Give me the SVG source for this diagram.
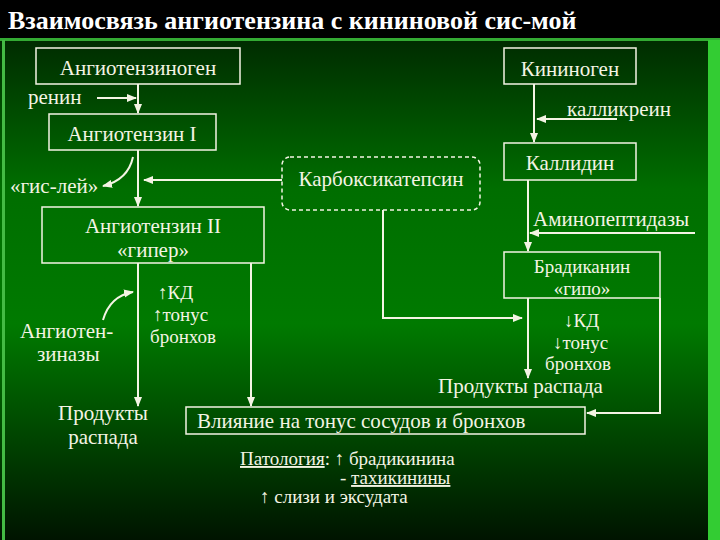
<svg xmlns="http://www.w3.org/2000/svg" width="720" height="540" viewBox="0 0 720 540" font-family="Liberation Serif, DejaVu Serif, serif">
<defs>
<linearGradient id="bg" x1="0" y1="0" x2="0" y2="1">
<stop offset="0" stop-color="#001a00"/>
<stop offset="0.35" stop-color="#006e00"/>
<stop offset="0.6" stop-color="#007a00"/>
<stop offset="1" stop-color="#001400"/>
</linearGradient>
<marker id="ah" viewBox="0 0 10 10" refX="9" refY="5" markerWidth="5" markerHeight="5" orient="auto"><path d="M0,1 L10,5 L0,9 Z" fill="#f4f4e4"/></marker>
<style>
text{font-family:Liberation Serif,DejaVu Serif,serif;font-size:21px;fill:#f4f4e4}
.box{fill:none;stroke:#f4f4e4;stroke-width:1.5}
.ln{fill:none;stroke:#f4f4e4;stroke-width:2;marker-end:url(#ah)}
.m{text-anchor:middle}
.u{text-decoration:underline}
.s{font-size:19px}
</style>
</defs>
<rect width="720" height="540" fill="url(#bg)"/>
<rect x="0" y="0" width="720" height="40" fill="#000"/>
<rect x="0" y="38" width="720" height="3" fill="#33aa33"/>
<rect x="2" y="40" width="3" height="500" fill="#44bb44"/>
<rect x="708" y="40" width="12" height="500" fill="#33cc33"/>
<text x="8" y="29" font-family="Liberation Serif, serif" style="font-size:26px;font-weight:bold;fill:#fff">Взаимосвязь ангиотензина с кининовой сис-мой</text>
<g id="connectors">
<path class="ln" d="M138,84 V113"/>
<path class="ln" d="M97,98 H136"/>
<path class="ln" d="M138,150 V206"/>
<path class="ln" d="M133,157 Q128,180 103,186"/>
<path class="ln" d="M282,180 H144"/>
<path class="ln" d="M138,263 V406"/>
<path class="ln" d="M251,263 V406"/>
<path class="ln" d="M103,320 Q110,296 133,292"/>
<path class="ln" d="M534,84 V142"/>
<path class="ln" d="M617,119 H537"/>
<path class="ln" d="M528,180 V251"/>
<path class="ln" d="M695,233 H530"/>
<path class="ln" d="M383,210 V318 H522"/>
<path class="ln" d="M528,298 V378"/>
<path class="ln" d="M660,298 V413 H587"/>
</g>
<g id="angiotensinogen"><rect class="box" x="36" y="48" width="204" height="36"/><text class="m" x="138" y="75">Ангиотензиноген</text></g>
<g id="renin"><text x="28" y="104">ренин</text></g>
<g id="angiotensin1"><rect class="box" x="49" y="114" width="167" height="36"/><text class="m" x="132" y="141">Ангиотензин I</text></g>
<g id="gisley"><text x="10" y="193">«гис-лей»</text></g>
<g id="carboxy"><rect class="box" x="282" y="157" width="198" height="53" rx="8" stroke-dasharray="4,3"/><text class="m" x="381" y="186">Карбоксикатепсин</text></g>
<g id="angiotensin2"><rect class="box" x="42" y="207" width="222" height="56"/><text class="m" x="153" y="233">Ангиотензин II</text><text class="m" x="153" y="257">«гипер»</text></g>
<g id="effects1" class="s"><text class="s" x="158" y="299">↑КД</text><text class="s" x="153" y="321">↑тонус</text><text class="s" x="150" y="343">бронхов</text></g>
<g id="angiotensinases"><text x="20" y="338">Ангиотен-</text><text x="37" y="361">зиназы</text></g>
<g id="products1"><text class="m" x="103" y="420">Продукты</text><text class="m" x="103" y="444">распада</text></g>
<g id="kininogen"><rect class="box" x="504" y="48" width="132" height="36"/><text class="m" x="570" y="76">Кининоген</text></g>
<g id="kallikrein"><text x="567" y="116">калликреин</text></g>
<g id="kallidin"><rect class="box" x="504" y="143" width="132" height="37"/><text class="m" x="570" y="170">Каллидин</text></g>
<g id="aminopeptidases"><text x="533" y="226">Аминопептидазы</text></g>
<g id="bradykinin"><rect class="box" x="504" y="252" width="156" height="46"/><text class="m s" x="582" y="273">Брадиканин</text><text class="m s" x="582" y="295">«гипо»</text></g>
<g id="effects2"><text class="s" x="564" y="327">↓КД</text><text class="s" x="553" y="349">↓тонус</text><text class="s" x="545" y="370">бронхов</text><text x="438" y="393">Продукты распада</text></g>
<g id="influence"><rect class="box" x="186" y="407" width="399" height="27"/><text x="197" y="428">Влияние на тонус сосудов и бронхов</text></g>
<g id="pathology">
<text x="240" y="465" class="s"><tspan class="u">Патология</tspan>:  ↑  брадикинина</text>
<text x="340" y="484" class="s">- <tspan class="u">тахикинины</tspan></text>
<text x="260" y="503" class="s">↑  слизи  и эксудата</text>
</g>
</svg>
